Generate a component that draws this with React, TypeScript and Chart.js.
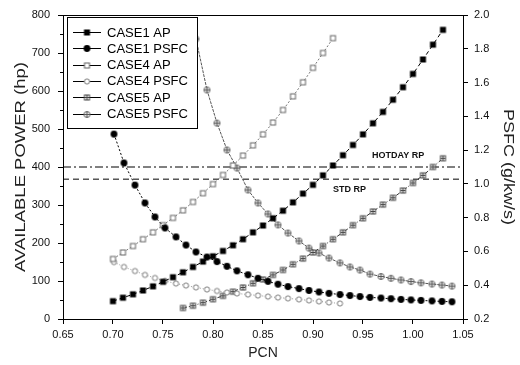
import React, { useEffect, useRef } from "react";
import { Chart, registerables } from "chart.js";
Chart.register(...registerables);

// ---------- data ----------
const SERIES_NAMES = ["CASE1 AP", "CASE1 PSFC", "CASE4 AP", "CASE4 PSFC", "CASE5 AP", "CASE5 PSFC"];

const CASE1_AP_PCN = [0.70, 0.71, 0.72, 0.73, 0.74, 0.75, 0.76, 0.77, 0.78, 0.79, 0.80, 0.81, 0.82, 0.83, 0.84, 0.85, 0.86, 0.87, 0.88, 0.89, 0.90, 0.91, 0.92, 0.93, 0.94, 0.95, 0.96, 0.97, 0.98, 0.99, 1.00, 1.01, 1.02, 1.03];
const CASE1_AP = [47, 56, 65, 75, 86, 98, 110, 123, 137, 151, 165, 179, 194, 210, 228, 246, 265, 285, 307, 330, 353, 378, 404, 431, 458, 486, 515, 545, 577, 610, 645, 683, 722, 761];

const CASE4_AP_PCN = [0.70, 0.71, 0.72, 0.73, 0.74, 0.75, 0.76, 0.77, 0.78, 0.79, 0.80, 0.81, 0.82, 0.83, 0.84, 0.85, 0.86, 0.87, 0.88, 0.89, 0.90, 0.91, 0.92];
const CASE4_AP = [158, 175, 192, 210, 228, 247, 266, 286, 308, 331, 355, 379, 404, 430, 457, 486, 517, 550, 586, 623, 661, 700, 739];

const CASE5_AP_PCN = [0.77, 0.78, 0.79, 0.80, 0.81, 0.82, 0.83, 0.84, 0.85, 0.86, 0.87, 0.88, 0.89, 0.90, 0.91, 0.92, 0.93, 0.94, 0.95, 0.96, 0.97, 0.98, 0.99, 1.00, 1.01, 1.02, 1.03];
const CASE5_AP = [29, 35, 43, 52, 61, 72, 83, 94, 104, 116, 129, 144, 159, 175, 192, 210, 228, 247, 265, 283, 301, 319, 338, 358, 378, 400, 423];

const CASE1_PSFC_PCN = [0.701, 0.711, 0.722, 0.732, 0.742, 0.752, 0.763, 0.773, 0.783, 0.794, 0.804, 0.814, 0.824, 0.835, 0.845, 0.855, 0.865, 0.875, 0.886, 0.896, 0.906, 0.916, 0.927, 0.937, 0.947, 0.957, 0.968, 0.978, 0.988, 0.998, 1.008, 1.019, 1.029, 1.039];
const CASE1_PSFC = [1.295, 1.124, 0.993, 0.887, 0.804, 0.739, 0.686, 0.638, 0.597, 0.567, 0.540, 0.512, 0.485, 0.462, 0.441, 0.423, 0.406, 0.392, 0.380, 0.369, 0.360, 0.352, 0.345, 0.339, 0.333, 0.328, 0.324, 0.320, 0.316, 0.313, 0.310, 0.307, 0.304, 0.302];

const CASE4_PSFC_PCN = [0.701, 0.711, 0.722, 0.732, 0.742, 0.752, 0.763, 0.773, 0.783, 0.794, 0.804, 0.814, 0.824, 0.835, 0.845, 0.855, 0.865, 0.875, 0.886, 0.896, 0.906, 0.916, 0.927];
const CASE4_PSFC = [0.537, 0.508, 0.484, 0.461, 0.443, 0.425, 0.410, 0.398, 0.387, 0.375, 0.366, 0.357, 0.351, 0.345, 0.339, 0.333, 0.327, 0.322, 0.316, 0.310, 0.304, 0.298, 0.292];

const CASE5_PSFC_PCN = [0.783, 0.794, 0.804, 0.814, 0.824, 0.835, 0.845, 0.855, 0.865, 0.875, 0.886, 0.896, 0.906, 0.916, 0.927, 0.937, 0.947, 0.957, 0.968, 0.978, 0.988, 0.998, 1.008, 1.019, 1.029, 1.039];
const CASE5_PSFC = [1.858, 1.556, 1.360, 1.201, 1.094, 0.964, 0.887, 0.822, 0.757, 0.709, 0.662, 0.620, 0.591, 0.561, 0.532, 0.508, 0.490, 0.466, 0.452, 0.441, 0.431, 0.422, 0.414, 0.407, 0.401, 0.395];

const REF_PCN = [0.65, 1.05];
const HOTDAY_RP = 400;
const STD_RP = 368;

const X_TICKS = { min: 0.65, max: 1.05, step: 0.05 };
const AP_TICKS = { min: 0, max: 800, step: 100 };
const PSFC_TICKS = { min: 0.2, max: 2.0, step: 0.2 };

// ---------- styling helpers ----------
const FONT = '"Liberation Sans", Arial, Helvetica, sans-serif';

function makeMarker(kind: string): HTMLCanvasElement {
  const c = document.createElement("canvas");
  c.width = 9;
  c.height = 9;
  const ctx = c.getContext("2d")!;
  const m = 4.5;
  ctx.lineWidth = 1;
  if (kind === "fsq") {
    ctx.fillStyle = "#000";
    ctx.fillRect(1.5, 1.5, 6, 6);
  } else if (kind === "fci") {
    ctx.fillStyle = "#000";
    ctx.beginPath();
    ctx.arc(m, m, 3.4, 0, Math.PI * 2);
    ctx.fill();
  } else if (kind === "osq") {
    ctx.fillStyle = "#fff";
    ctx.fillRect(2, 2, 5, 5);
    ctx.strokeStyle = "#666";
    ctx.strokeRect(2, 2, 5, 5);
  } else if (kind === "oci") {
    ctx.fillStyle = "#fff";
    ctx.strokeStyle = "#777";
    ctx.beginPath();
    ctx.arc(m, m, 2.6, 0, Math.PI * 2);
    ctx.fill();
    ctx.stroke();
  } else if (kind === "psq") {
    ctx.fillStyle = "#fff";
    ctx.fillRect(2, 2, 5, 5);
    ctx.strokeStyle = "#444";
    ctx.strokeRect(2, 2, 5, 5);
    ctx.beginPath();
    ctx.moveTo(4.5, 2);
    ctx.lineTo(4.5, 7);
    ctx.moveTo(2, 4.5);
    ctx.lineTo(7, 4.5);
    ctx.stroke();
  } else if (kind === "pci") {
    ctx.fillStyle = "#fff";
    ctx.strokeStyle = "#555";
    ctx.beginPath();
    ctx.arc(m, m, 3, 0, Math.PI * 2);
    ctx.fill();
    ctx.stroke();
    ctx.beginPath();
    ctx.moveTo(4.5, 1.5);
    ctx.lineTo(4.5, 7.5);
    ctx.moveTo(1.5, 4.5);
    ctx.lineTo(7.5, 4.5);
    ctx.stroke();
  }
  return c;
}

function pts(xs: number[], ys: number[]) {
  return xs.map((x, i) => ({ x, y: ys[i] }));
}

export default function App() {
  const ref = useRef<HTMLCanvasElement | null>(null);

  useEffect(() => {
    const canvas = ref.current;
    if (!canvas) return;
    const markers = ["fsq", "fci", "osq", "oci", "psq", "pci"].map(makeMarker);
    const dashes = [[4, 3], [2, 2], [2, 2], [1, 2], [4, 2, 1, 2], [3, 1]];
    const colors = ["#000", "#000", "#777", "#999", "#333", "#555"];

    const mk = (i: number, data: any[], axis: string) => ({
      label: SERIES_NAMES[i],
      data,
      yAxisID: axis,
      borderColor: colors[i],
      borderWidth: 1,
      borderDash: dashes[i],
      pointStyle: markers[i],
      pointRadius: 3,
      fill: false,
      tension: 0,
    });

    const overlay = {
      id: "overlay",
      afterDatasetsDraw(chart: any) {
        const ctx = chart.ctx as CanvasRenderingContext2D;
        const ca = chart.chartArea;
        const sx = chart.scales.x;
        const sy = chart.scales.y;
        ctx.save();
        // top frame line
        ctx.strokeStyle = "#000";
        ctx.lineWidth = 1;
        ctx.beginPath();
        ctx.moveTo(ca.left, ca.top + 0.5);
        ctx.lineTo(ca.right, ca.top + 0.5);
        ctx.stroke();

        // minor ticks on left axis
        for (let v = AP_TICKS.min + AP_TICKS.step / 2; v < AP_TICKS.max; v += AP_TICKS.step) {
          const y = Math.round(sy.getPixelForValue(v)) + 0.5;
          ctx.beginPath();
          ctx.moveTo(ca.left - 3, y);
          ctx.lineTo(ca.left, y);
          ctx.stroke();
        }

        // reference line labels
        ctx.fillStyle = "#111";
        ctx.font = `bold 9px ${FONT}`;
        ctx.textBaseline = "middle";
        ctx.textAlign = "left";
        ctx.fillText("HOTDAY RP", sx.getPixelForValue(0.959), sy.getPixelForValue(HOTDAY_RP) - 11);
        ctx.fillText("STD RP", sx.getPixelForValue(0.92), sy.getPixelForValue(STD_RP) + 10);

        // legend box
        const lx = 67, ly = 17, lw = 130, lh = 111;
        ctx.fillStyle = "#fff";
        ctx.fillRect(lx, ly, lw, lh);
        ctx.strokeStyle = "#000";
        ctx.setLineDash([]);
        ctx.strokeRect(lx + 0.5, ly + 0.5, lw, lh);
        ctx.font = `13px ${FONT}`;
        SERIES_NAMES.forEach((name, i) => {
          const cy = 32 + i * 16.3;
          ctx.strokeStyle = "#000";
          ctx.beginPath();
          ctx.moveTo(73, Math.round(cy) + 0.5);
          ctx.lineTo(101, Math.round(cy) + 0.5);
          ctx.stroke();
          const mkr = markers[i];
          ctx.drawImage(mkr, 87 - mkr.width / 2, Math.round(cy) - mkr.height / 2 + 0.5);
          ctx.fillStyle = "#000";
          ctx.fillText(name, 107, cy + 1);
        });
        ctx.restore();
      },
      afterDraw(chart: any) {
        const ctx = chart.ctx as CanvasRenderingContext2D;
        const ca = chart.chartArea;
        const cyMid = (ca.top + ca.bottom) / 2;
        const drawTitle = (text: string, x: number, y: number, ang: number, target: number) => {
          ctx.save();
          ctx.translate(x, y);
          ctx.rotate(ang);
          ctx.font = `14px ${FONT}`;
          const w = ctx.measureText(text).width;
          ctx.scale(target / w, 1);
          ctx.fillStyle = "#222";
          ctx.textAlign = "center";
          ctx.textBaseline = "middle";
          ctx.fillText(text, 0, 0);
          ctx.restore();
        };
        drawTitle("AVAILABLE POWER (hp)", 21, cyMid, -Math.PI / 2, 210);
        drawTitle("PSFC (g/kw/s)", 508, cyMid, Math.PI / 2, 116);
        ctx.save();
        ctx.font = `14px ${FONT}`;
        ctx.fillStyle = "#222";
        ctx.textAlign = "center";
        ctx.textBaseline = "middle";
        ctx.fillText("PCN", (ca.left + ca.right) / 2, 353);
        ctx.restore();
      },
    };

    const chart = new Chart(canvas, {
      type: "line",
      data: {
        datasets: [
          mk(0, pts(CASE1_AP_PCN, CASE1_AP), "y"),
          mk(1, pts(CASE1_PSFC_PCN, CASE1_PSFC), "y1"),
          mk(2, pts(CASE4_AP_PCN, CASE4_AP), "y"),
          mk(3, pts(CASE4_PSFC_PCN, CASE4_PSFC), "y1"),
          mk(4, pts(CASE5_AP_PCN, CASE5_AP), "y"),
          mk(5, pts(CASE5_PSFC_PCN, CASE5_PSFC), "y1"),
          {
            label: "HOTDAY RP",
            data: REF_PCN.map((x) => ({ x, y: HOTDAY_RP })),
            yAxisID: "y",
            borderColor: "#000",
            borderWidth: 1,
            borderDash: [8, 3, 2, 3],
            pointRadius: 0,
          },
          {
            label: "STD RP",
            data: REF_PCN.map((x) => ({ x, y: STD_RP })),
            yAxisID: "y",
            borderColor: "#000",
            borderWidth: 1,
            borderDash: [6, 4],
            pointRadius: 0,
          },
        ] as any,
      },
      options: {
        animation: false,
        responsive: false,
        devicePixelRatio: 1,
        events: [],
        layout: { padding: { top: 15, left: 0, right: 0, bottom: 0 } },
        plugins: { legend: { display: false }, tooltip: { enabled: false }, title: { display: false } },
        scales: {
          x: {
            type: "linear",
            min: X_TICKS.min,
            max: X_TICKS.max,
            ticks: {
              stepSize: X_TICKS.step,
              callback: (v: any) => Number(v).toFixed(2),
              font: { family: FONT, size: 11 },
              color: "#111",
              padding: 4,
              maxRotation: 0,
            },
            grid: { drawOnChartArea: false, tickLength: 5, color: "#000" },
            border: { display: true, color: "#000" },
            afterFit: (s: any) => { s.height = 46; },
          },
          y: {
            type: "linear",
            position: "left",
            min: AP_TICKS.min,
            max: AP_TICKS.max,
            ticks: {
              stepSize: AP_TICKS.step,
              font: { family: FONT, size: 11 },
              color: "#111",
              padding: 8,
            },
            grid: { drawOnChartArea: false, tickLength: 5, color: "#000" },
            border: { display: true, color: "#000" },
            afterFit: (s: any) => { s.width = 63; },
          },
          y1: {
            type: "linear",
            position: "right",
            min: PSFC_TICKS.min,
            max: PSFC_TICKS.max,
            ticks: {
              stepSize: PSFC_TICKS.step,
              callback: (v: any) => Number(v).toFixed(1),
              font: { family: FONT, size: 11 },
              color: "#111",
              padding: 6,
            },
            grid: { drawOnChartArea: false, tickLength: 5, color: "#000" },
            border: { display: true, color: "#000" },
            afterFit: (s: any) => { s.width = 57; },
          },
        },
      } as any,
      plugins: [overlay],
    });
    return () => chart.destroy();
  }, []);

  return (
    <div style={{ position: "fixed", left: 0, top: 0, width: 520, height: 365, background: "#fff" }}>
      <canvas ref={ref} width={520} height={365} style={{ width: 520, height: 365, display: "block" }} />
    </div>
  );
}
